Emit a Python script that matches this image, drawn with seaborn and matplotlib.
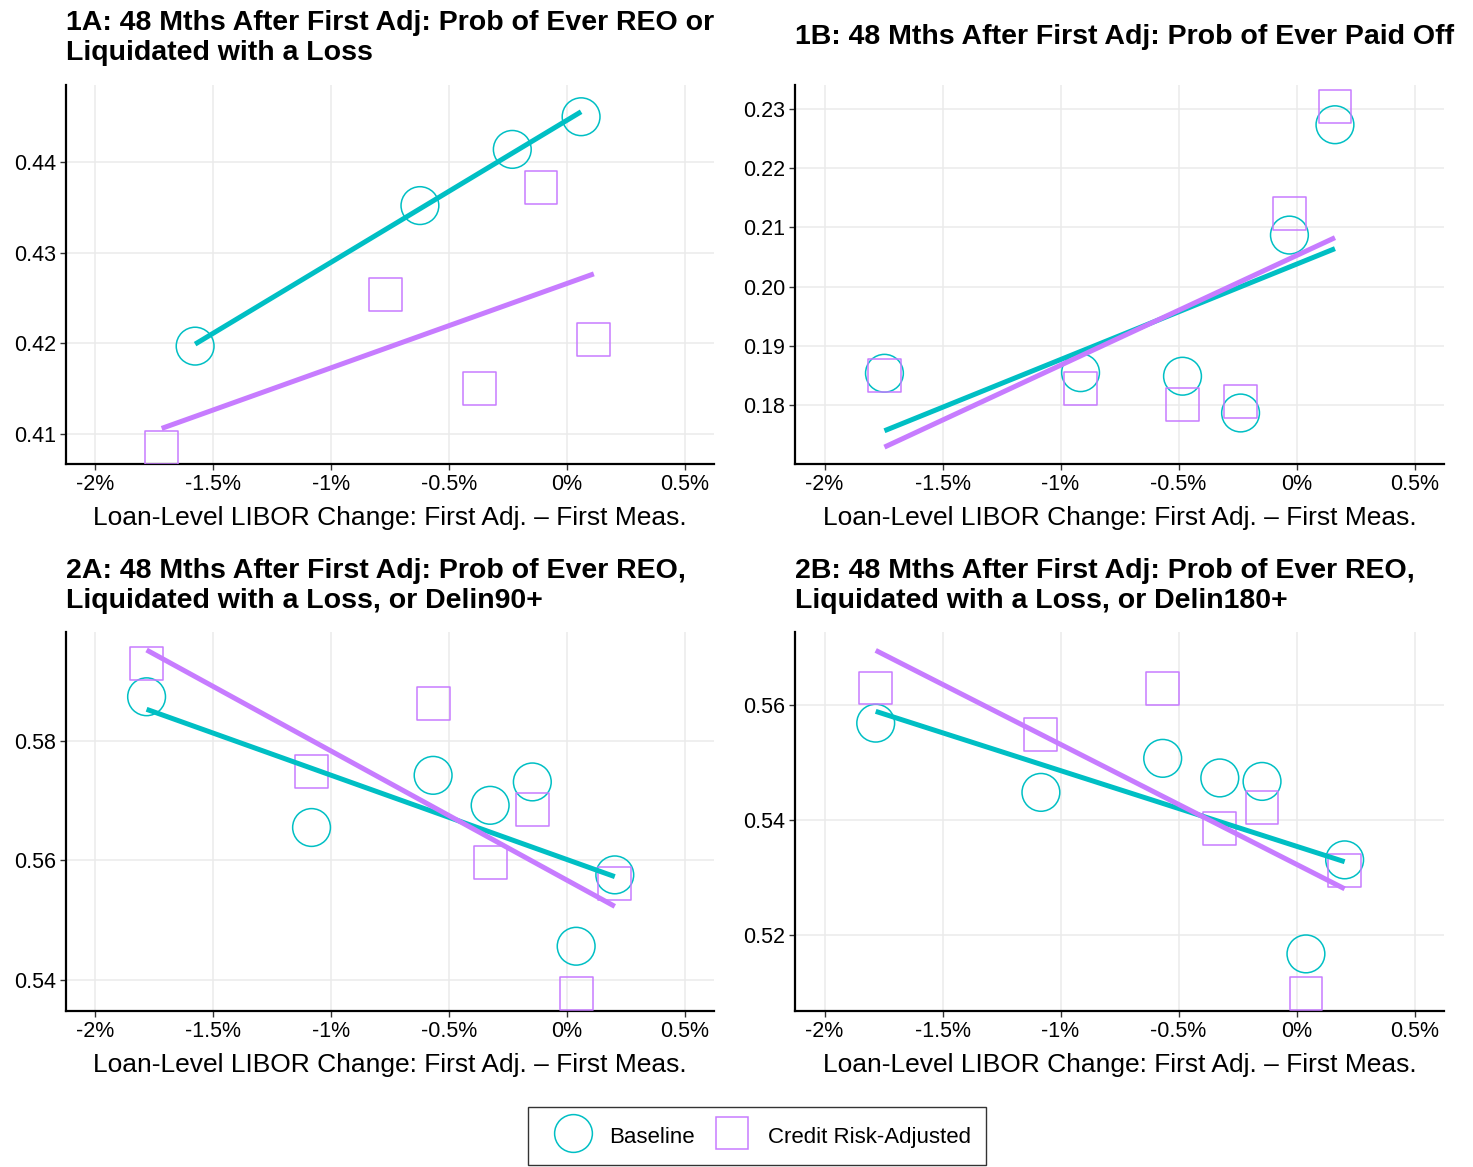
import matplotlib
matplotlib.use("Agg")
import matplotlib.pyplot as plt
import seaborn as sns
from matplotlib.lines import Line2D

TEAL = "#00BFC4"
PURPLE = "#C77CFF"

# values (x in % points)
x_1a_base = [-1.577, -0.623, -0.231, 0.061]
y_1a_base = [0.4197, 0.4352, 0.4414, 0.4450]
x_1a_adj = [-1.719, -0.769, -0.370, -0.109, 0.115]
y_1a_adj = [0.4085, 0.4254, 0.4150, 0.4372, 0.4204]

x_1b = [-1.746, -0.915, -0.483, -0.237, -0.030, 0.163]
y_1b_base = [0.1854, 0.1855, 0.1849, 0.1787, 0.2087, 0.2273]
y_1b_adj = [0.1850, 0.1828, 0.1801, 0.1807, 0.2124, 0.2304]

x_2 = [-1.783, -1.083, -0.567, -0.325, -0.146, 0.040, 0.204]
y_2a_base = [0.5873, 0.5655, 0.5742, 0.5692, 0.5731, 0.5457, 0.5576]
y_2a_adj = [0.5928, 0.5749, 0.5862, 0.5596, 0.5685, 0.5378, 0.5561]
y_2b_base = [0.5568, 0.5448, 0.5507, 0.5473, 0.5467, 0.5168, 0.5331]
y_2b_adj = [0.5629, 0.5548, 0.5628, 0.5386, 0.5422, 0.5099, 0.5312]

x_ticks = [-2, -1.5, -1, -0.5, 0, 0.5]
x_ticklabels = ["-2%", "-1.5%", "-1%", "-0.5%", "0%", "0.5%"]
x_label = "Loan-Level LIBOR Change: First Adj. \u2013 First Meas."

titles = [
    "1A: 48 Mths After First Adj: Prob of Ever REO or\nLiquidated with a Loss",
    "1B: 48 Mths After First Adj: Prob of Ever Paid Off",
    "2A: 48 Mths After First Adj: Prob of Ever REO,\nLiquidated with a Loss, or Delin90+",
    "2B: 48 Mths After First Adj: Prob of Ever REO,\nLiquidated with a Loss, or Delin180+",
]

panels = [
    (x_1a_base, y_1a_base, x_1a_adj, y_1a_adj, (0.4067, 0.4485), [0.41, 0.42, 0.43, 0.44]),
    (x_1b, y_1b_base, x_1b, y_1b_adj, (0.1701, 0.2340), [0.18, 0.19, 0.20, 0.21, 0.22, 0.23]),
    (x_2, y_2a_base, x_2, y_2a_adj, (0.5349, 0.5981), [0.54, 0.56, 0.58]),
    (x_2, y_2b_base, x_2, y_2b_adj, (0.5069, 0.5726), [0.52, 0.54, 0.56]),
]

sns.set_style("white")
plt.rcParams['font.family'] = ['Liberation Sans', 'DejaVu Sans']
plt.rcParams['text.color'] = 'black'
plt.rcParams['axes.labelcolor'] = 'black'

W, H = 1473, 1167
fig = plt.figure(figsize=(W / 100, H / 100), dpi=100)

# axes boxes in pixels: left, top, right, bottom
boxes = [(66, 85, 714, 464), (795, 85, 1444, 464), (66, 632, 714, 1011), (795, 632, 1444, 1011)]
title_y = [37.5, 37.5, 585.5, 585.5]

for i, (xb, yb, xa, ya, ylim, yticks) in enumerate(panels):
    l, t, r, b = boxes[i]
    ax = fig.add_axes([l / W, 1 - b / H, (r - l) / W, (b - t) / H])

    sns.scatterplot(x=xb, y=yb, marker='o', s=740, color=TEAL, facecolor='none',
                    edgecolor=TEAL, linewidth=1.1, ax=ax, zorder=3)
    sns.scatterplot(x=xa, y=ya, marker='s', s=560, color=PURPLE, facecolor='none',
                    edgecolor=PURPLE, linewidth=1.1, ax=ax, zorder=3)
    sns.regplot(x=xb, y=yb, scatter=False, ci=None, color=TEAL, ax=ax,
                line_kws={'linewidth': 3.6, 'zorder': 4, 'solid_capstyle': 'butt'})
    sns.regplot(x=xa, y=ya, scatter=False, ci=None, color=PURPLE, ax=ax,
                line_kws={'linewidth': 3.6, 'zorder': 4, 'solid_capstyle': 'butt'})

    ax.set_xlim(-2.125, 0.625)
    ax.set_ylim(*ylim)
    ax.set_xticks(x_ticks)
    ax.set_xticklabels(x_ticklabels)
    ax.set_yticks(yticks)
    ax.set_yticklabels([f"{v:.2f}" for v in yticks])
    ax.grid(True, color="#EBEBEB", linewidth=1.1)
    ax.set_axisbelow(True)
    for side in ['top', 'right']:
        ax.spines[side].set_visible(False)
    for side in ['left', 'bottom']:
        ax.spines[side].set_color('black')
        ax.spines[side].set_linewidth(1.6)
    ax.tick_params(axis='both', length=4, width=1, color='#333333', labelsize=15.5,
                   labelcolor='black', pad=3, left=True, bottom=True)
    ax.set_xlabel(x_label, fontsize=19, labelpad=8)
    ax.set_ylabel("")

    fig.text(l / W, 1 - title_y[i] / H, titles[i], ha='left', va='center',
             fontsize=20.5, fontweight='bold', linespacing=1.2, color='black')

handles = [
    Line2D([], [], marker='o', markersize=27.2, markerfacecolor='none',
           markeredgecolor=TEAL, markeredgewidth=1.1, linestyle='none'),
    Line2D([], [], marker='s', markersize=23.7, markerfacecolor='none',
           markeredgecolor=PURPLE, markeredgewidth=1.1, linestyle='none'),
]
leg = fig.legend(handles, ["Baseline", "Credit Risk-Adjusted"], loc='upper center',
                 bbox_to_anchor=(757 / W, 1 - 1107 / H), ncol=2, frameon=True,
                 fancybox=False, fontsize=16, handletextpad=0.29, columnspacing=0.34,
                 borderpad=0.7, handlelength=2.66, handleheight=1.45, borderaxespad=0)
leg.get_frame().set_edgecolor('black')
leg.get_frame().set_linewidth(1.0)

fig.savefig("out.png", dpi=100)
